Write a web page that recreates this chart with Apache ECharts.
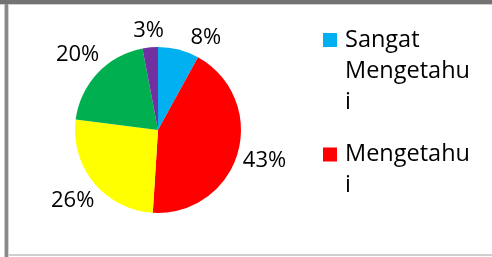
<!DOCTYPE html>
<html>
<head>
<meta charset="utf-8">
<script src="https://cdn.jsdelivr.net/npm/echarts@6/dist/echarts.min.js"></script>
<style>
  html, body { margin: 0; padding: 0; background: #fff; }
  #chart { width: 492px; height: 257px; }
</style>
</head>
<body>
<div id="chart"></div>
<script>
// data
var categories = ['Sangat Mengetahui', 'Mengetahui', 'Cukup Mengetahui', 'Kurang Mengetahui', 'Tidak Mengetahui'];
var values = [8, 43, 26, 20, 3];
var colors = ['#00B0F0', '#FF0000', '#FFFF00', '#00B050', '#7030A0'];
// legend only shows first two entries (truncated like the original)
var legendNames = categories.slice(0, 2);

var CX = 158, CY = 130, R = 83;
var FONT = '"Open Sans", "Noto Sans", sans-serif';
var LINE_H = 31;
var BOX_H = 3 * LINE_H;

var total = values.reduce(function (a, b) { return a + b; }, 0);

function midAngle(i) {
  var before = 0;
  for (var k = 0; k < i; k++) before += values[k];
  return (before + values[i] / 2) / total * Math.PI * 2; // clockwise from top
}

function labelPos(mid, w, h) {
  var ux = Math.sin(mid), uy = -Math.cos(mid);
  var d = R + 4 + Math.abs(ux) * w / 2 + Math.abs(uy) * h / 2;
  return { x: CX + ux * d, y: CY + uy * d };
}

// place each % label outside the slice, along its mid angle (Excel style);
// the first label is pushed clockwise when it crowds the last one near the top
function placeLabel(params) {
  var i = params.dataIndex;
  var w = params.labelRect.width, h = params.labelRect.height;
  var mid = midAngle(i);
  var p = labelPos(mid, w, h);
  if (i === 0) {
    var q = labelPos(midAngle(values.length - 1), w, h);
    while (p.x - w / 2 < q.x + w / 2 + 26 && mid < Math.PI / 2) {
      mid += Math.PI / 180;
      p = labelPos(mid, w, h);
    }
  }
  return { x: p.x, y: p.y, align: 'center', verticalAlign: 'middle' };
}

// legend marker: square sitting beside the first text line, inside a tall item box
function markerPath(lines) {
  var top = BOX_H / 2 - lines * LINE_H / 2 + LINE_H / 2 - 7;
  return 'path://M0,' + top + 'h14v14h-14z' +
    'M17,0h0.01v0.01h-0.01z' +
    'M0,' + BOX_H + 'h0.01v0.01h-0.01z';
}

var chart = echarts.init(document.getElementById('chart'));

var option = {
  animation: false,
  color: colors,
  graphic: [
    { type: 'rect', shape: { x: 0, y: 0, width: 492, height: 4 }, style: { fill: '#737373' }, silent: true },
    { type: 'rect', shape: { x: 0, y: 4, width: 492, height: 1 }, style: { fill: '#cfcfcf' }, silent: true },
    { type: 'rect', shape: { x: 4, y: 4, width: 1, height: 253 }, style: { fill: '#c8c8c8' }, silent: true },
    { type: 'rect', shape: { x: 5, y: 4, width: 3, height: 253 }, style: { fill: '#8a8a8a' }, silent: true },
    { type: 'rect', shape: { x: 8, y: 5, width: 1, height: 252 }, style: { fill: '#d4d4d4' }, silent: true },
    { type: 'rect', shape: { x: 8, y: 254, width: 484, height: 2 }, style: { fill: '#cfcfcf' }, silent: true }
  ],
  legend: {
    orient: 'vertical',
    left: 323,
    top: 33 - (BOX_H / 2 - 3 * LINE_H / 2 + LINE_H / 2 - 7),
    padding: 0,
    itemWidth: 17,
    itemHeight: BOX_H,
    itemGap: 6,
    itemStyle: { borderWidth: 0 },
    selectedMode: false,
    textStyle: {
      fontFamily: FONT,
      fontSize: 23.5,
      color: '#000',
      lineHeight: LINE_H,
      width: 126,
      overflow: 'break'
    },
    data: legendNames.map(function (n, i) {
      return { name: n, icon: markerPath(i === 0 ? 3 : 2) };
    })
  },
  series: [{
    type: 'pie',
    center: [CX, CY],
    radius: R,
    startAngle: 90,
    clockwise: true,
    avoidLabelOverlap: false,
    label: {
      show: true,
      position: 'outside',
      formatter: '{c}%',
      fontFamily: FONT,
      fontSize: 22,
      lineHeight: 22,
      color: '#000'
    },
    labelLine: { show: false },
    labelLayout: placeLabel,
    itemStyle: { borderWidth: 0 },
    emphasis: { disabled: true },
    data: categories.map(function (c, i) {
      return { name: c, value: values[i] };
    })
  }]
};

chart.setOption(option);
</script>
</body>
</html>
